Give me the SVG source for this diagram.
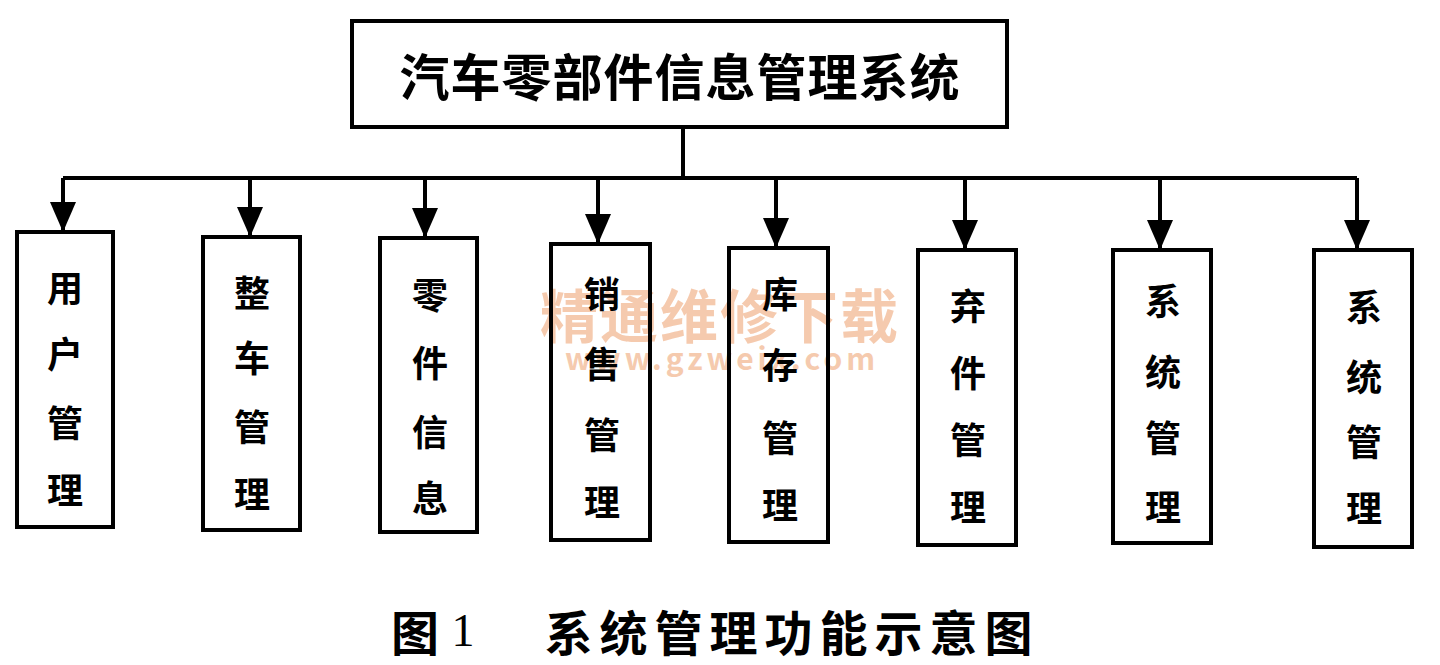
<svg xmlns="http://www.w3.org/2000/svg" width="1440" height="665" viewBox="0 0 1440 665">
<style>
.box{fill:none;stroke:#000;stroke-width:4}
.ln{fill:none;stroke:#000;stroke-width:4}
.t{font-family:"Noto Sans CJK SC","Noto Sans",sans-serif;font-weight:bold;fill:#000;text-anchor:middle;dominant-baseline:central}
.v{font-size:36px}
.wm{font-family:"Noto Sans CJK SC","Liberation Sans",sans-serif;font-weight:bold;fill:#f2b48c;opacity:0.7;text-anchor:middle}
</style>
<defs>
<marker id="ah" viewBox="0 0 30 26" refX="30" refY="13" markerWidth="30" markerHeight="26" markerUnits="userSpaceOnUse" orient="auto">
<path d="M0,0 L30,13 L0,26 Z" fill="#000"/>
</marker>
</defs>
<rect width="1440" height="665" fill="#fff"/>
<g id="watermark">
<text class="wm" x="720" y="338" font-size="58" letter-spacing="2">精通维修下载</text>
<text class="wm" x="722" y="370" font-size="30" letter-spacing="4">www.gzweix.com</text>
</g>
<g id="connectors">
<path class="ln" d="M683,127 V178 M63,178 H1357"/>
<path class="ln" d="M63,178 V232" marker-end="url(#ah)"/>
<path class="ln" d="M250,178 V237" marker-end="url(#ah)"/>
<path class="ln" d="M425,178 V238" marker-end="url(#ah)"/>
<path class="ln" d="M598,178 V244" marker-end="url(#ah)"/>
<path class="ln" d="M776,178 V248" marker-end="url(#ah)"/>
<path class="ln" d="M965,178 V250" marker-end="url(#ah)"/>
<path class="ln" d="M1160,178 V250" marker-end="url(#ah)"/>
<path class="ln" d="M1357,178 V250" marker-end="url(#ah)"/>
</g>
<g id="root">
<rect class="box" x="352" y="21" width="655" height="106"/>
<text class="t" x="680" y="74" font-size="50" letter-spacing="1">汽车零部件信息管理系统</text>
</g>
<g id="n1">
<rect class="box" x="17" y="232" width="96" height="295"/>
<text class="t v" x="65" y="286">用</text><text class="t v" x="65" y="352">户</text><text class="t v" x="65" y="421">管</text><text class="t v" x="65" y="488">理</text>
</g>
<g id="n2">
<rect class="box" x="203" y="237" width="97" height="293"/>
<text class="t v" x="252" y="291">整</text><text class="t v" x="252" y="356">车</text><text class="t v" x="252" y="425">管</text><text class="t v" x="252" y="492">理</text>
</g>
<g id="n3">
<rect class="box" x="380" y="238" width="97" height="294"/>
<text class="t v" x="430" y="293">零</text><text class="t v" x="430" y="361">件</text><text class="t v" x="430" y="430">信</text><text class="t v" x="430" y="496">息</text>
</g>
<g id="n4">
<rect class="box" x="551" y="244" width="99" height="296"/>
<text class="t v" x="602" y="292">销</text><text class="t v" x="602" y="362">售</text><text class="t v" x="602" y="433">管</text><text class="t v" x="602" y="500">理</text>
</g>
<g id="n5">
<rect class="box" x="729" y="248" width="99" height="294"/>
<text class="t v" x="780" y="292">库</text><text class="t v" x="780" y="363">存</text><text class="t v" x="780" y="436">管</text><text class="t v" x="780" y="503">理</text>
</g>
<g id="n6">
<rect class="box" x="918" y="250" width="98" height="295"/>
<text class="t v" x="968" y="304">弃</text><text class="t v" x="968" y="371">件</text><text class="t v" x="968" y="438">管</text><text class="t v" x="968" y="505">理</text>
</g>
<g id="n7">
<rect class="box" x="1113" y="250" width="98" height="293"/>
<text class="t v" x="1163" y="299">系</text><text class="t v" x="1163" y="370">统</text><text class="t v" x="1163" y="436">管</text><text class="t v" x="1163" y="505">理</text>
</g>
<g id="n8">
<rect class="box" x="1314" y="250" width="98" height="297"/>
<text class="t v" x="1364" y="305">系</text><text class="t v" x="1364" y="375">统</text><text class="t v" x="1364" y="440">管</text><text class="t v" x="1364" y="506">理</text>
</g>
<g id="caption">
<text class="t" x="415" y="630" font-size="48">图</text>
<text x="463" y="630" font-family="Liberation Serif,serif" font-size="46" text-anchor="middle" dominant-baseline="central" fill="#000">1</text>
<text class="t" x="792" y="630" font-size="48" letter-spacing="7">系统管理功能示意图</text>
</g>
</svg>
